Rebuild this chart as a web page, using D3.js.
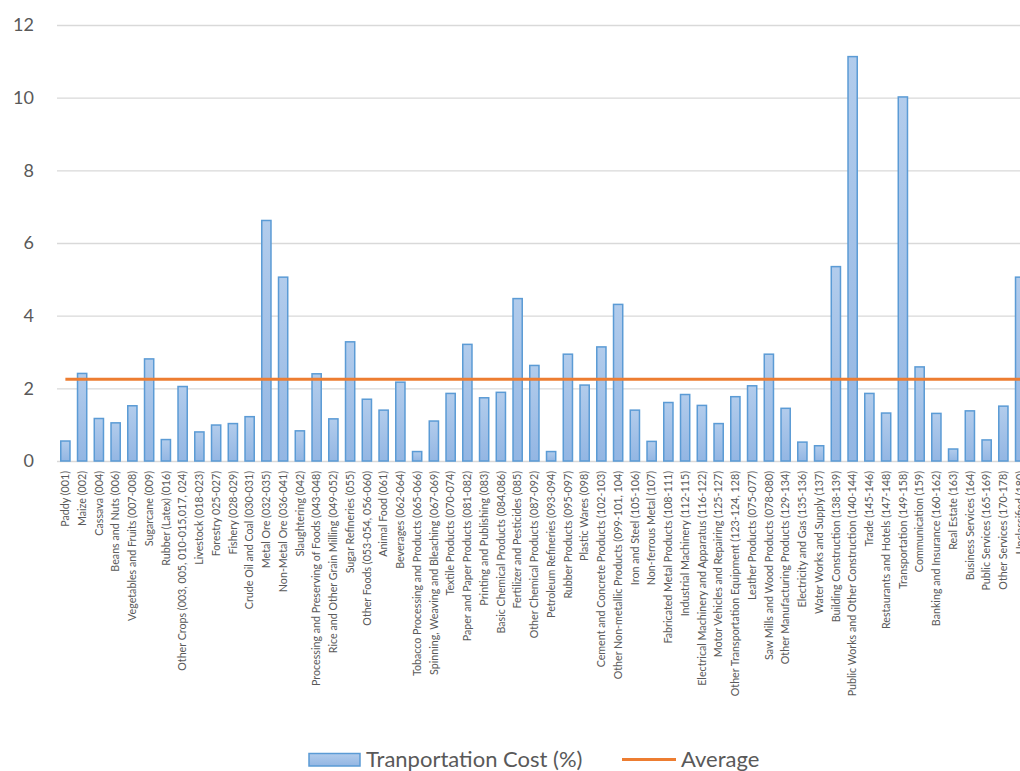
<!DOCTYPE html>
<html>
<head>
<meta charset="utf-8">
<script src="https://cdn.jsdelivr.net/npm/d3@7"></script>
<style>
  body { margin: 0; background: #fff; }
  svg text { font-family: Lato, "Open Sans", sans-serif; fill: #595959; }
</style>
</head>
<body>
<svg id="chart" width="1020" height="771"></svg>
<script>
const sectors = [
  "Paddy (001)","Maize (002)","Cassava (004)","Beans and Nuts (006)","Vegetables and Fruits (007-008)",
  "Sugarcane (009)","Rubber (Latex) (016)","Other Crops (003, 005, 010-015,017, 024)","Livestock (018-023)",
  "Forestry 025-027)","Fishery (028-029)","Crude Oil and Coal (030-031)","Metal Ore (032-035)",
  "Non-Metal Ore (036-041)","Slaughtering (042)","Processing and Preserving of Foods (043-048)",
  "Rice and Other Grain Milling (049-052)","Sugar Refineries (055)","Other Foods (053-054, 056-060)",
  "Animal Food (061)","Beverages (062-064)","Tobacco Processing and Products (065-066)",
  "Spinning, Weaving and Bleaching (067-069)","Textile Products (070-074)","Paper and Paper Products (081-082)",
  "Printing and Publishing (083)","Basic Chemical Products (084,086)","Fertilizer and Pesticides (085)",
  "Other Chemical Products (087-092)","Petroleum Refineries (093-094)","Rubber Products (095-097)",
  "Plastic Wares (098)","Cement and Concrete Products (102-103)","Other Non-metallic Products (099-101, 104)",
  "Iron and Steel (105-106)","Non-ferrous Metal (107)","Fabricated Metal Products (108-111)",
  "Industrial Machinery (112-115)","Electrical Machinery and Apparatus (116-122)",
  "Motor Vehicles and Repairing (125-127)","Other Transportation Equipment (123-124, 128)",
  "Leather Products (075-077)","Saw Mills and Wood Products (078-080)","Other Manufacturing Products (129-134)",
  "Electricity and Gas (135-136)","Water Works and Supply (137)","Building Construction (138-139)",
  "Public Works and Other Construction (140-144)","Trade (145-146)","Restaurants and Hotels (147-148)",
  "Transportation (149-158)","Communication (159)","Banking and Insurance (160-162)","Real Estate (163)",
  "Business Services (164)","Public Services (165-169)","Other Services (170-178)","Unclassified (180)"
];

const costPct = [
  0.55, 2.41, 1.17, 1.05, 1.52, 2.81, 0.59, 2.05, 0.80, 0.99,
  1.03, 1.22, 6.62, 5.06, 0.83, 2.40, 1.16, 3.28, 1.70, 1.40,
  2.17, 0.26, 1.10, 1.86, 3.21, 1.74, 1.89, 4.47, 2.63, 0.26,
  2.94, 2.09, 3.14, 4.31, 1.40, 0.54, 1.61, 1.83, 1.53, 1.03,
  1.77, 2.07, 2.94, 1.45, 0.52, 0.42, 5.35, 11.13, 1.86, 1.32,
  10.02, 2.59, 1.31, 0.33, 1.38, 0.58, 1.51, 5.06
];

const averageCost = 2.25;
const yTicks = [0, 2, 4, 6, 8, 10, 12];
const legendLabels = ["Tranportation Cost (%)", "Average"];

const svg = d3.select("#chart");

// plot area (runs past the right edge, like the source)
const plotLeft = 57, plotTop = 25, plotBottom = 461;
const step = 16.75;
const plotRight = plotLeft + sectors.length * step;

const x = d3.scaleBand().domain(sectors).range([plotLeft, plotRight]).paddingInner(0.45).paddingOuter(0.225);
const y = d3.scaleLinear().domain([0, 12]).range([plotBottom, plotTop]);

const defs = svg.append("defs");
const grad = defs.append("linearGradient").attr("id", "barGrad")
  .attr("x1", 0).attr("y1", 0).attr("x2", 0).attr("y2", 1);
grad.append("stop").attr("offset", "0%").attr("stop-color", "#B2CCEC");
grad.append("stop").attr("offset", "100%").attr("stop-color", "#93B6E3");

// gridlines + y labels
const yAxis = d3.axisLeft(y).tickValues(yTicks).tickSize(-(plotRight - plotLeft)).tickPadding(23);
const yg = svg.append("g").attr("transform", `translate(${plotLeft},0)`).call(yAxis);
yg.select(".domain").remove();
yg.selectAll(".tick line").attr("stroke", "#D9D9D9").attr("stroke-width", 1.3);
yg.selectAll(".tick text").attr("font-size", 18).style("font-family", "Lato, sans-serif").attr("fill", "#595959");

// bars
svg.append("g").selectAll("rect")
  .data(sectors)
  .join("rect")
    .attr("x", d => x(d))
    .attr("y", (d, i) => y(costPct[i]))
    .attr("width", x.bandwidth())
    .attr("height", (d, i) => plotBottom - y(costPct[i]))
    .attr("fill", "url(#barGrad)")
    .attr("stroke", "#5B9BD5")
    .attr("stroke-width", 1.5);

// average line through category centres
const avgLine = d3.line()
  .x(d => x(d) + x.bandwidth() / 2)
  .y(() => y(averageCost));
svg.append("path")
  .datum(sectors)
  .attr("d", avgLine)
  .attr("fill", "none")
  .attr("stroke", "#ED7D31")
  .attr("stroke-width", 3);

// x labels, rotated
const xAxis = d3.axisBottom(x).tickSize(0).tickPadding(0);
const xg = svg.append("g").attr("transform", `translate(0,${plotBottom})`).call(xAxis);
xg.select(".domain").remove();
xg.selectAll(".tick text")
  .attr("transform", "rotate(-90)")
  .attr("x", -10)
  .attr("y", 0)
  .attr("dy", "0.35em")
  .style("text-anchor", "end")
  .style("font-family", "Lato, sans-serif")
  .attr("font-size", 10.7)
  .attr("fill", "#595959");

// legend
const lg = svg.append("g");
lg.append("rect").attr("x", 309).attr("y", 753.5).attr("width", 51).attr("height", 12.5)
  .attr("fill", "url(#barGrad)").attr("stroke", "#5B9BD5").attr("stroke-width", 1.5);
lg.append("text").attr("x", 366).attr("y", 767).attr("font-size", 22).text(legendLabels[0]);
lg.append("line").attr("x1", 622).attr("x2", 676).attr("y1", 759.5).attr("y2", 759.5)
  .attr("stroke", "#ED7D31").attr("stroke-width", 3);
lg.append("text").attr("x", 681).attr("y", 767).attr("font-size", 22).text(legendLabels[1]);
</script>
</body>
</html>
